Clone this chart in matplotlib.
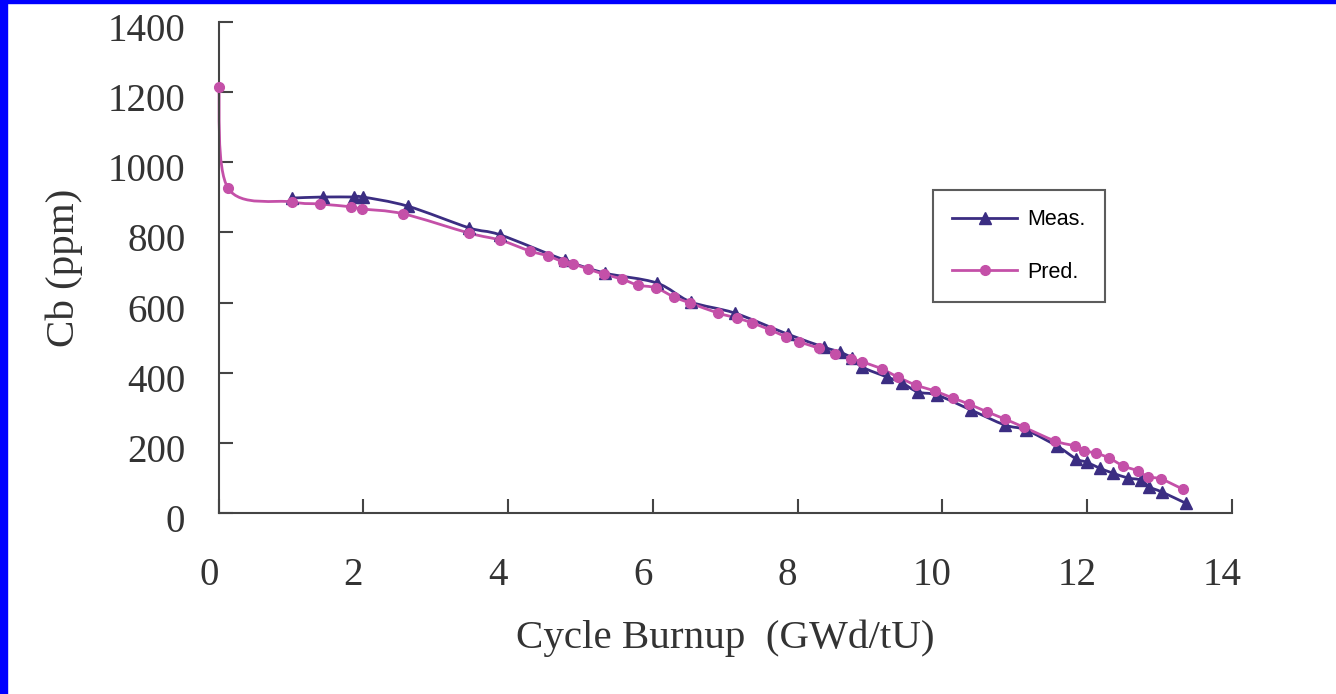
import matplotlib
matplotlib.use("Agg")
import matplotlib.pyplot as plt
from matplotlib.patches import Rectangle, PathPatch
from matplotlib.path import Path
from matplotlib.lines import Line2D
import matplotlib.transforms as mtransforms

# ---- data ----
pred_x = [0.0, 0.13, 1.01, 1.40, 1.83, 1.98, 2.55, 3.46, 3.89, 4.30, 4.55, 4.76, 4.90,
          5.10, 5.32, 5.57, 5.79, 6.04, 6.29, 6.51, 6.90, 7.16, 7.37, 7.62, 7.84, 8.02,
          8.29, 8.51, 8.74, 8.89, 9.16, 9.38, 9.63, 9.89, 10.14, 10.36, 10.62, 10.86,
          11.12, 11.56, 11.83, 11.96, 12.12, 12.30, 12.50, 12.70, 12.84, 13.02, 13.32]
pred_y = [1215, 926, 887, 881, 873, 867, 853, 798, 778, 747, 733, 716, 710,
          696, 681, 667, 650, 642, 616, 599, 570, 556, 542, 522, 502, 488,
          470, 453, 439, 431, 411, 388, 365, 348, 328, 311, 288, 268,
          245, 205, 191, 177, 171, 157, 134, 120, 103, 97, 68]

meas_x = [1.01, 1.44, 1.87, 1.99, 2.61, 3.46, 3.89, 4.78, 5.34, 6.05, 6.52, 7.13, 7.86,
          8.36, 8.58, 8.75, 8.89, 9.23, 9.44, 9.66, 9.93, 10.39, 10.86, 11.15, 11.58,
          11.85, 11.99, 12.17, 12.35, 12.56, 12.74, 12.86, 13.03, 13.36]
meas_y = [898, 901, 901, 901, 875, 813, 793, 721, 684, 656, 602, 570, 510,
          473, 459, 442, 416, 388, 371, 345, 336, 294, 251, 237, 191,
          154, 145, 128, 114, 100, 94, 74, 60, 28]

x_ticks = [0, 2, 4, 6, 8, 10, 12, 14]
y_ticks = [0, 200, 400, 600, 800, 1000, 1200, 1400]
x_label = "Cycle Burnup  (GWd/tU)"
y_label = "Cb (ppm)"
labels = ["Meas.", "Pred."]


def smooth_path(xs, ys):
    """Excel-style smoothed line: cubic Bezier segments through the points."""
    pts = list(zip(xs, ys))
    n = len(pts)
    verts = [pts[0]]
    codes = [Path.MOVETO]
    for i in range(n - 1):
        p0 = pts[i - 1] if i > 0 else pts[i]
        p1 = pts[i]
        p2 = pts[i + 1]
        p3 = pts[i + 2] if i + 2 < n else pts[i + 1]
        c1 = (p1[0] + (p2[0] - p0[0]) / 6, p1[1] + (p2[1] - p0[1]) / 6)
        c2 = (p2[0] - (p3[0] - p1[0]) / 6, p2[1] - (p3[1] - p1[1]) / 6)
        verts += [c1, c2, p2]
        codes += [Path.CURVE4] * 3
    return Path(verts, codes)


W, H = 1336, 694
fig = plt.figure(figsize=(W / 100, H / 100), dpi=100)
fig.patch.set_facecolor("white")
fig.add_artist(Rectangle((0, 0), 7 / W, 1, transform=fig.transFigure,
                         color="#0000ff", zorder=0))
fig.add_artist(Rectangle((0, 1 - 2.5 / H), 1, 2.5 / H, transform=fig.transFigure,
                         color="#0000ff", zorder=0))

left, right = 218.7 / W, 1232 / W
bottom, top = 1 - 513 / H, 1 - 22 / H
ax = fig.add_axes([left, bottom, right - left, top - bottom])

meas_col = "#3b2d82"
pred_col = "#c450a8"
lw = 2.0

ax.add_patch(PathPatch(smooth_path(meas_x, meas_y), fill=False, edgecolor=meas_col,
                       lw=lw, zorder=2, clip_on=False))
ax.add_patch(PathPatch(smooth_path(pred_x, pred_y), fill=False, edgecolor=pred_col,
                       lw=lw, zorder=2, clip_on=False))
ax.plot(meas_x, meas_y, ls="none", marker="^", ms=8.5, color=meas_col,
        zorder=3, clip_on=False)
ax.plot(pred_x, pred_y, ls="none", marker="o", ms=7, color=pred_col,
        zorder=4, clip_on=False)

ax.set_xlim(0, 14)
ax.set_ylim(0, 1400)
ax.set_xticks(x_ticks)
ax.set_yticks(y_ticks)

tick_col = "#444444"
text_col = "#333333"
for s in ["top", "right"]:
    ax.spines[s].set_visible(False)
for s in ["left", "bottom"]:
    ax.spines[s].set_color(tick_col)
    ax.spines[s].set_linewidth(1.5)

serif = ["Liberation Serif", "DejaVu Serif"]
ax.tick_params(direction="in", length=10, width=1.5, color=tick_col,
               labelcolor=text_col, labelsize=28)
ax.tick_params(axis="y", pad=24)
ax.tick_params(axis="x", pad=32)
xoff = mtransforms.ScaledTranslation(-10 / 100, 0, fig.dpi_scale_trans)
yoff = mtransforms.ScaledTranslation(0, -5 / 100, fig.dpi_scale_trans)
for lab in ax.get_xticklabels():
    lab.set_family(serif)
    lab.set_transform(lab.get_transform() + xoff)
for lab in ax.get_yticklabels():
    lab.set_family(serif)
    lab.set_transform(lab.get_transform() + yoff)

ax.set_xlabel(x_label, family=serif, fontsize=29.5, color=text_col, labelpad=18)
ax.set_ylabel(y_label, family=serif, fontsize=29.5, color=text_col, labelpad=18)

handles = [Line2D([], [], color=meas_col, lw=lw, marker="^", ms=8.5),
           Line2D([], [], color=pred_col, lw=lw, marker="o", ms=7)]
leg = ax.legend(handles, labels,
                loc="upper left",
                bbox_to_anchor=(933 / W, 1 - 190 / H),
                bbox_transform=fig.transFigure,
                prop={"family": ["Liberation Sans", "DejaVu Sans"], "size": 15.5},
                frameon=True, fancybox=False, edgecolor="#333333",
                handlelength=3.0, handletextpad=0.5, borderpad=0.9,
                labelspacing=1.45, borderaxespad=0)
leg.get_frame().set_linewidth(1.5)

fig.savefig("out.png", dpi=100, facecolor="white")
